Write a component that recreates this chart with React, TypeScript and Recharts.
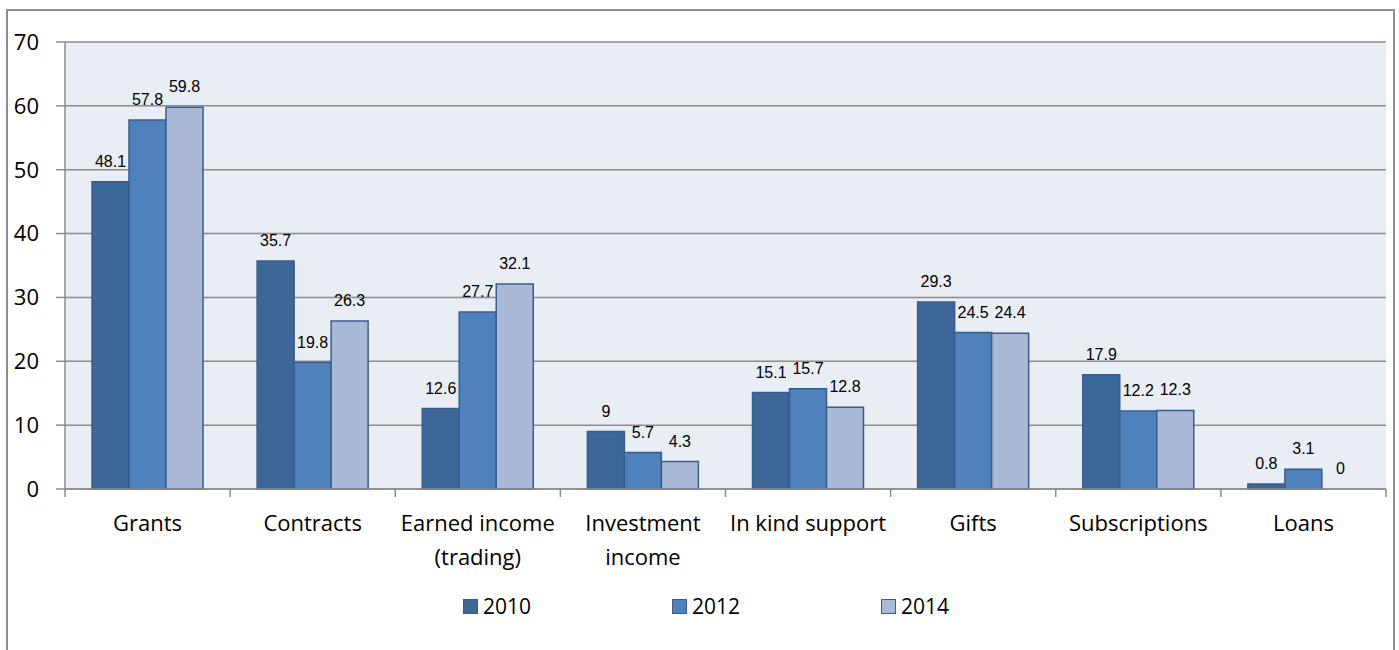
import { BarChart, Bar, XAxis, YAxis, CartesianGrid, Legend, LabelList, Cell } from "recharts";

const categories = [
  "Grants",
  "Contracts",
  "Earned income (trading)",
  "Investment income",
  "In kind support",
  "Gifts",
  "Subscriptions",
  "Loans",
];
const tickLines = [
  ["Grants"],
  ["Contracts"],
  ["Earned income", "(trading)"],
  ["Investment", "income"],
  ["In kind support"],
  ["Gifts"],
  ["Subscriptions"],
  ["Loans"],
];
const y2010 = [48.1, 35.7, 12.6, 9, 15.1, 29.3, 17.9, 0.8];
const y2012 = [57.8, 19.8, 27.7, 5.7, 15.7, 24.5, 12.2, 3.1];
const y2014 = [59.8, 26.3, 32.1, 4.3, 12.8, 24.4, 12.3, 0];
const yTicks = [0, 10, 20, 30, 40, 50, 60, 70];

const series = [
  { key: "2010", fill: "#3D6699", values: y2010 },
  { key: "2012", fill: "#4F81BD", values: y2012 },
  { key: "2014", fill: "#AAB9D7", values: y2014 },
];

const data = categories.map((c, i) => ({
  name: c,
  "2010": y2010[i],
  "2012": y2012[i],
  "2014": y2014[i],
}));

const W = 1399;
const H = 650;
const PLOT_LEFT = 65;
const PLOT_RIGHT = 1386;
const BAND = (PLOT_RIGHT - PLOT_LEFT) / categories.length;
const GRID = "#8C8C8C";
const FONT = "'Open Sans', sans-serif";

function CategoryTick(props: any) {
  const { x, y, index } = props;
  const lines = tickLines[index] || [props.payload.value];
  return (
    <g>
      <line x1={x - BAND / 2} x2={x - BAND / 2} y1={y} y2={y + 8} stroke={GRID} strokeWidth={1.5} />
      {index === categories.length - 1 && (
        <line x1={x + BAND / 2} x2={x + BAND / 2} y1={y} y2={y + 8} stroke={GRID} strokeWidth={1.5} />
      )}
      {lines.map((l: string, i: number) => (
        <text key={i} x={x} y={y + 42 + i * 34} textAnchor="middle" fontSize={22} fontFamily={FONT} fill="#000">
          {l}
        </text>
      ))}
    </g>
  );
}

function ValueLabel(props: any) {
  const { x, y, width, value } = props;
  return (
    <text
      x={x + width / 2}
      y={y - 15}
      textAnchor="middle"
      fontSize={16}
      fontFamily="'Liberation Sans', Arial, sans-serif"
      fill="#000"
    >
      {value}
    </text>
  );
}

function LegendContent() {
  return (
    <div style={{ display: "flex", fontFamily: FONT, fontSize: 21, color: "#000" }}>
      {series.map((s) => (
        <div key={s.key} style={{ width: 209, display: "flex", alignItems: "center" }}>
          <span
            style={{
              display: "inline-block",
              width: 13,
              height: 13,
              background: s.fill,
              border: "1px solid #385D8A",
              marginRight: 5,
            }}
          />
          <span>{s.key}</span>
        </div>
      ))}
    </div>
  );
}

export default function App() {
  return (
    <div style={{ position: "absolute", left: 0, top: 0, width: W, height: H, background: "#fff", overflow: "hidden" }}>
      <div
        style={{
          position: "absolute",
          left: 6,
          top: 9,
          width: 1385,
          height: 700,
          border: "2px solid #8E8E8E",
        }}
      />
      <BarChart
        width={W}
        height={H}
        data={data}
        margin={{ top: 42, right: W - PLOT_RIGHT, bottom: 0, left: 0 }}
        barCategoryGap={27}
        barGap={0}
        style={{ position: "absolute", left: 0, top: 0 }}
      >
        <CartesianGrid vertical={false} fill="#E9EDF4" stroke={GRID} strokeWidth={1.5} />
        <XAxis
          dataKey="name"
          height={H - 489}
          interval={0}
          tickLine={false}
          tickSize={0}
          tickMargin={0}
          axisLine={{ stroke: GRID, strokeWidth: 1.5 }}
          tick={<CategoryTick />}
        />
        <YAxis
          width={PLOT_LEFT}
          domain={[0, 70]}
          ticks={yTicks}
          interval={0}
          tickSize={9}
          tickMargin={17}
          axisLine={{ stroke: GRID, strokeWidth: 1.5 }}
          tickLine={{ stroke: GRID, strokeWidth: 1.5 }}
          tick={{ fill: "#000", fontSize: 22, fontFamily: FONT }}
        />
        <Legend
          verticalAlign="middle"
          align="center"
          content={<LegendContent />}
          wrapperStyle={{ top: 592, left: 463, width: 640 }}
        />
        {series.map((s) => (
          <Bar
            key={s.key}
            dataKey={s.key}
            fill={s.fill}
            stroke="#385D8A"
            strokeWidth={1.5}
            minPointSize={0.01}
            isAnimationActive={false}
          >
            {s.values.map((v, i) => (
              <Cell key={i} stroke={v === 0 ? "none" : "#385D8A"} />
            ))}
            <LabelList dataKey={s.key} content={<ValueLabel />} />
          </Bar>
        ))}
      </BarChart>
    </div>
  );
}
